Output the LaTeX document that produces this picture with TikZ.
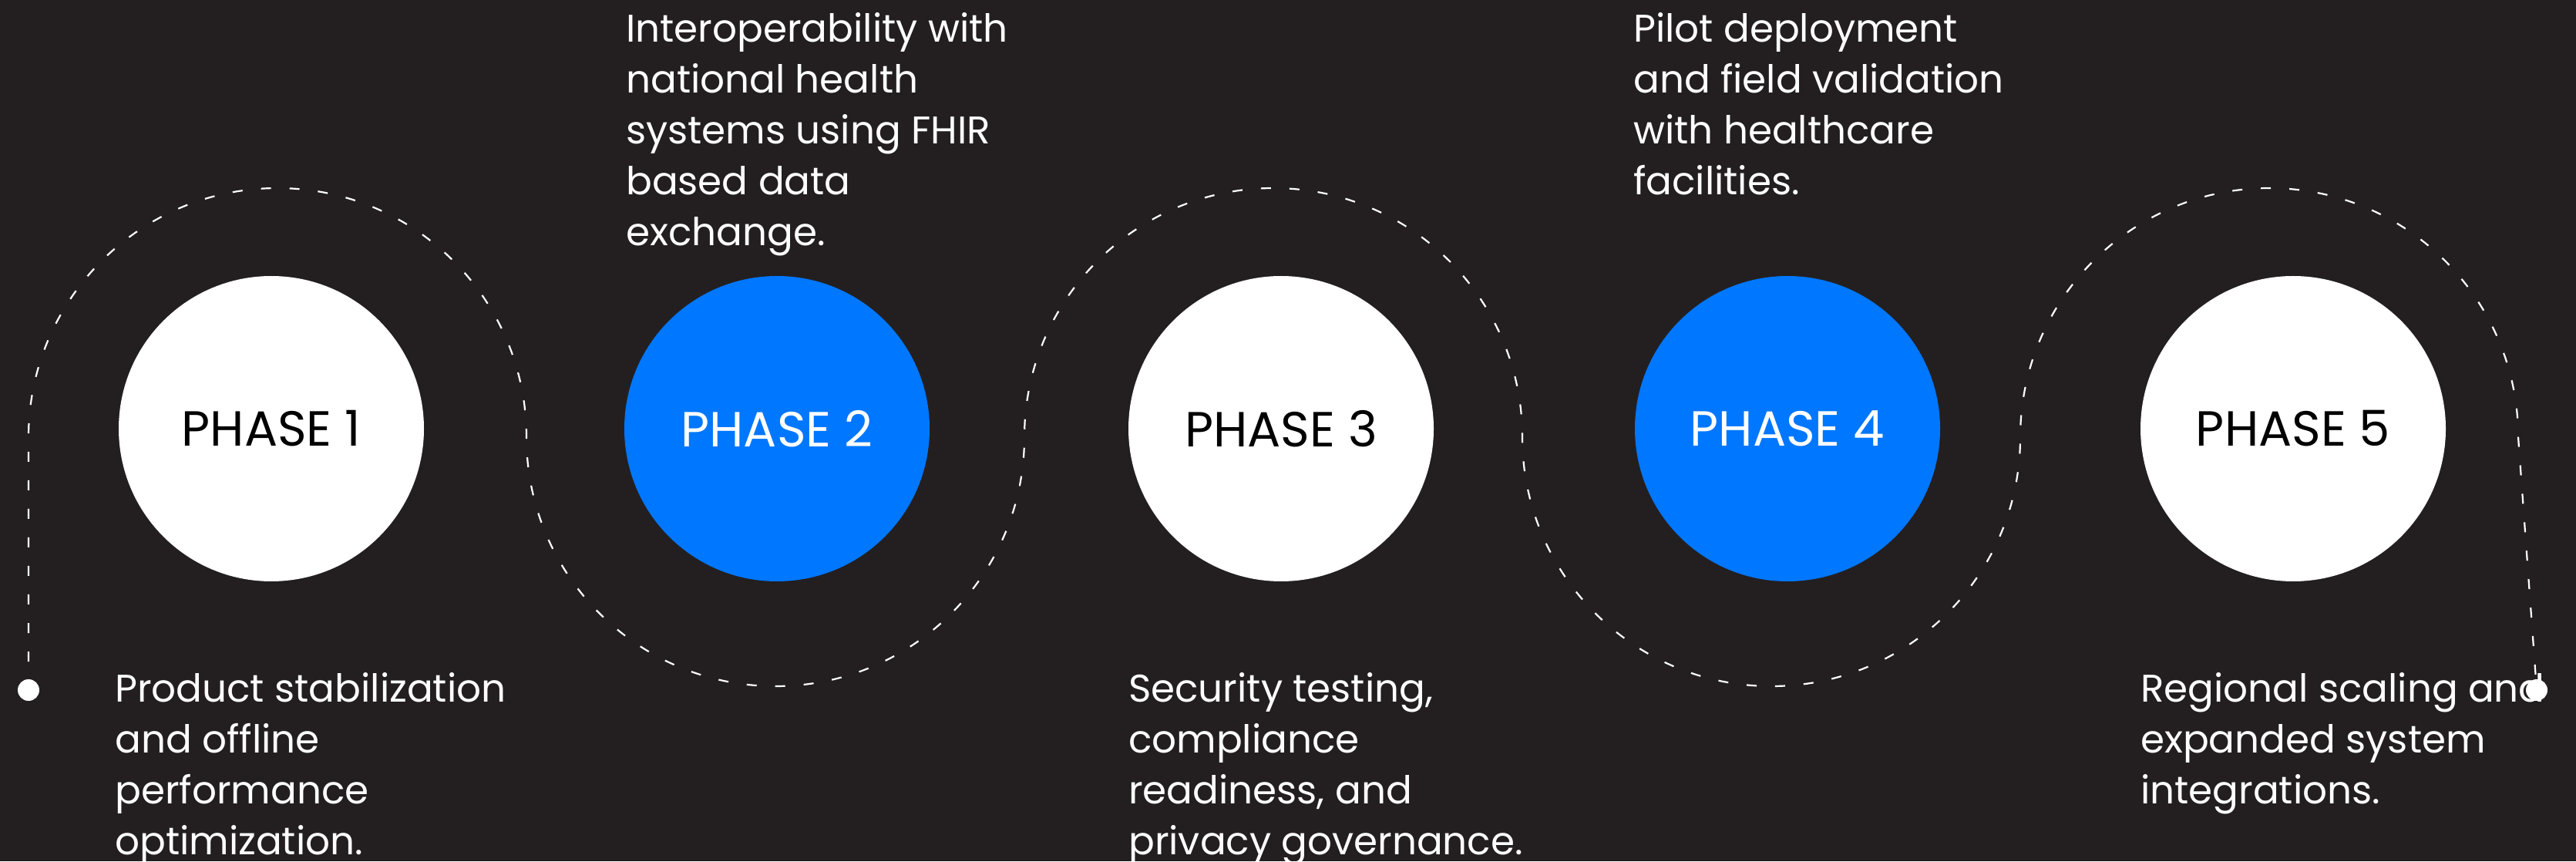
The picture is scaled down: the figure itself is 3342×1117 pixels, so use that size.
\documentclass[tikz,border=0pt]{standalone}
\usepackage{fontspec}
\setmainfont{Poppins}
\definecolor{bg}{RGB}{35,31,32}
\definecolor{phaseblue}{RGB}{0,119,255}
\tikzset{
  phasewhite/.style={circle,fill=white,minimum size=396pt,inner sep=0pt,text=black,font=\fontsize{64}{68}\selectfont},
  phaseblue/.style={circle,fill=phaseblue,minimum size=396pt,inner sep=0pt,text=white,font=\fontsize{64}{68}\selectfont},
  txt/.style={anchor=base west,inner sep=0pt,text=white,font=\fontsize{50}{56}\selectfont},
  trail/.style={white,line width=2.2pt,dash pattern=on 13pt off 24pt},
  enddot/.style={circle,fill=white,minimum size=28pt,inner sep=0pt}
}
\begin{document}
\begin{tikzpicture}[x=1pt,y=1pt]
\fill[bg] (0,0) rectangle (3342,1117);
\useasboundingbox (0,0) rectangle (3342,1117);
% trail
\coordinate (s) at (37,222);
\coordinate (e) at (3291,222);
\draw[trail] (s) -- (37,550) arc[start angle=180,end angle=0,radius=323]
  arc[start angle=180,end angle=360,radius=323]
  arc[start angle=180,end angle=0,radius=323]
  arc[start angle=180,end angle=360,radius=323]
  arc[start angle=180,end angle=0,radius=323] -- (e);
% circles
\node[phasewhite] (p1) at (352,561) {PHASE 1};
\node[phaseblue]  (p2) at (1008,561) {PHASE 2};
\node[phasewhite] (p3) at (1662,561) {PHASE 3};
\node[phaseblue]  (p4) at (2319,561) {PHASE 4};
\node[phasewhite] (p5) at (2975,561) {PHASE 5};
% texts
\foreach \l [count=\i] in {Product stabilization,and offline,performance,optimization.}
  \node[txt] (a\i) at (149,{207-(\i-1)*66}) {\l};
\foreach \l [count=\i] in {Interoperability with,national health,systems using FHIR,based data,exchange.}
  \node[txt] (b\i) at (812,{1062-(\i-1)*66}) {\l};
\foreach \l [count=\i] in {{Security testing,},compliance,{readiness, and},privacy governance.}
  \node[txt] (c\i) at (1464,{207-(\i-1)*66}) {\l};
\foreach \l [count=\i] in {Pilot deployment,and field validation,with healthcare,facilities.}
  \node[txt] (d\i) at (2119,{1062-(\i-1)*66}) {\l};
\foreach \l [count=\i] in {Regional scaling and,expanded system,integrations.}
  \node[txt] (f\i) at (2777,{207-(\i-1)*66}) {\l};
% end dots
\node[enddot] (ds) at (s) {};
\node[enddot] (de) at (e) {};
\end{tikzpicture}
\end{document}
